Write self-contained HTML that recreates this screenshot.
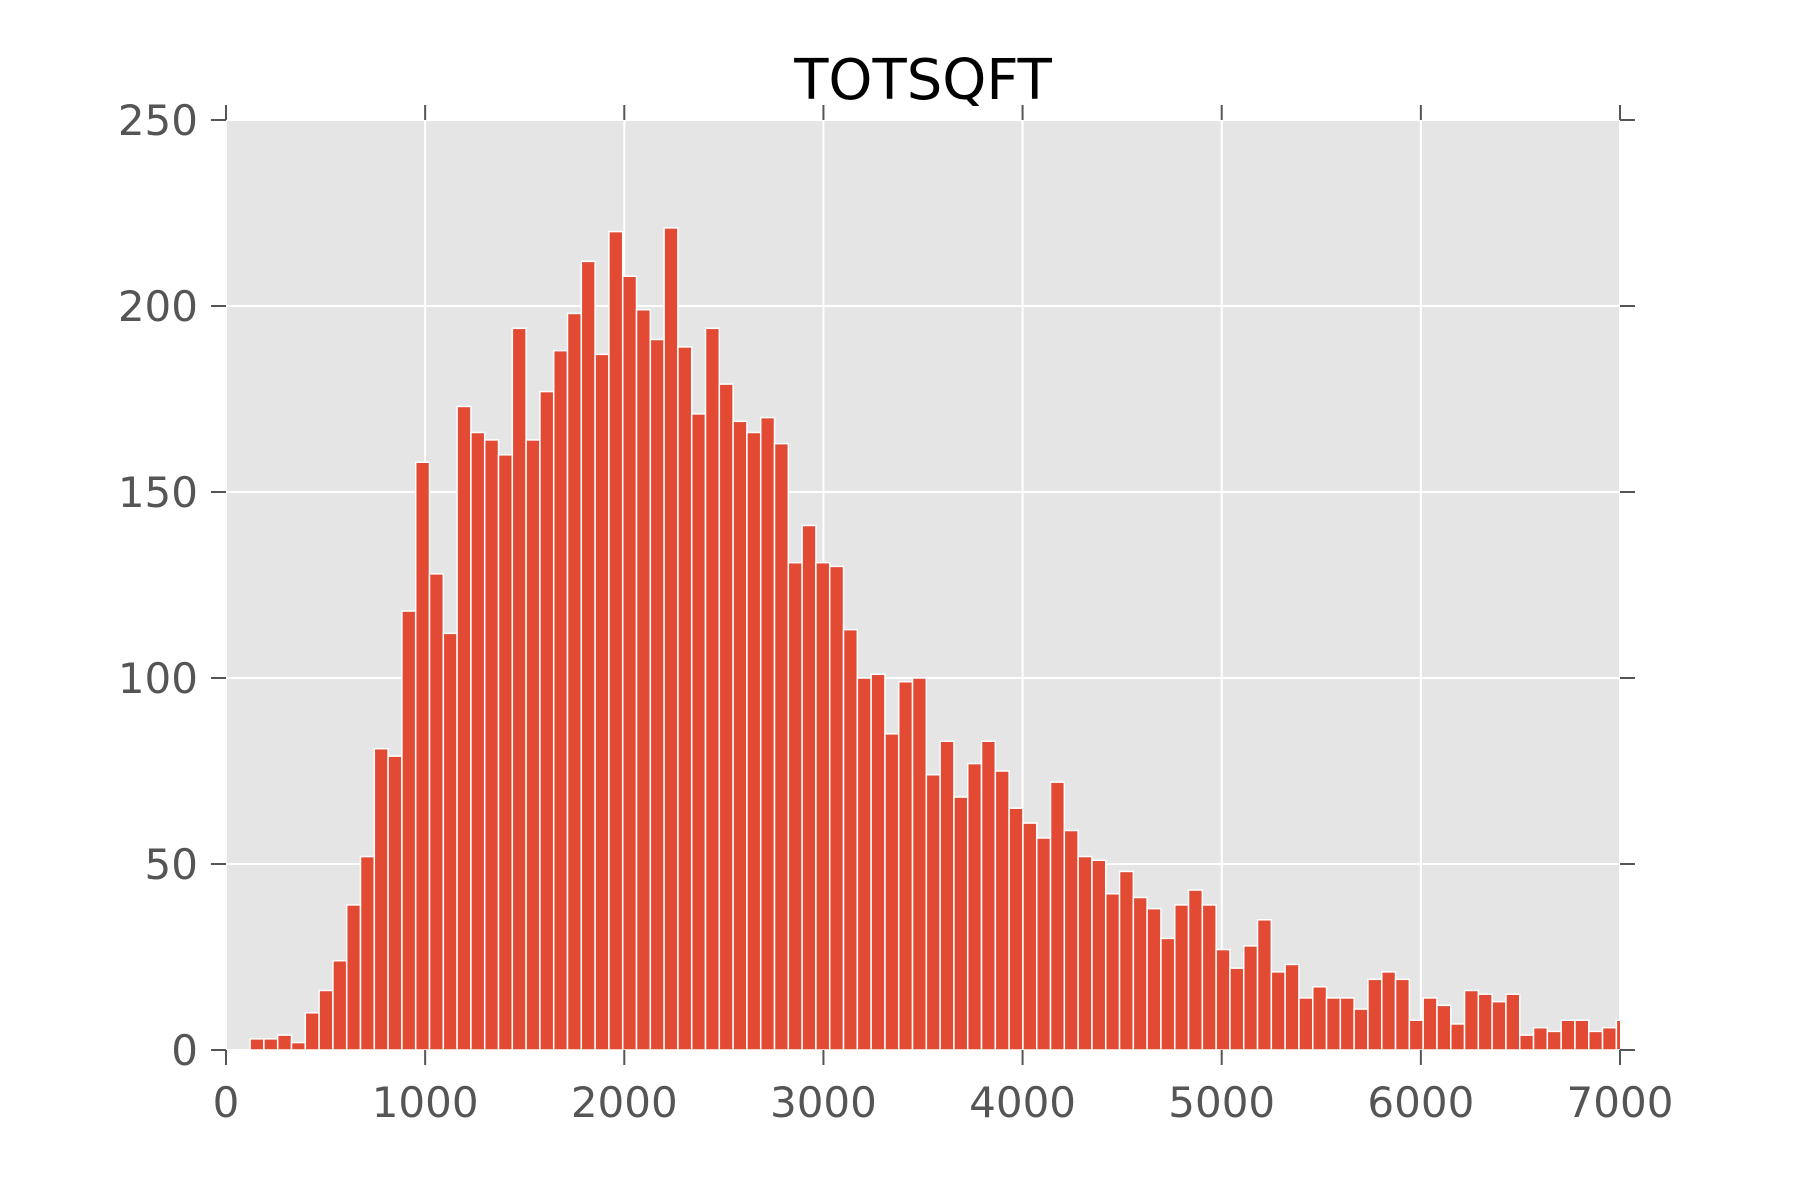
<!DOCTYPE html>
<html><head><meta charset="utf-8"><style>html,body{margin:0;padding:0;background:#fff;}svg{display:block;}</style></head>
<body>
<svg id="chart" width="1800" height="1200" viewBox="0 0 1800 1200" xmlns="http://www.w3.org/2000/svg" font-family="'DejaVu Sans','Liberation Sans',sans-serif">
<defs><clipPath id="clip"><rect x="226" y="120" width="1394" height="930"/></clipPath></defs>
<rect x="226" y="120" width="1394" height="930" fill="#e5e5e5"/>
<g id="grid"></g>
<g id="bars" clip-path="url(#clip)"></g>
<g id="axes"></g>
<text x="923" y="99" text-anchor="middle" font-size="56" fill="#000">TOTSQFT</text>
</svg>
<script>
const binStart = 121;
const binWidth = 69.3;
const counts = [3,3,4,2,10,16,24,39,52,81,79,118,158,128,112,173,166,164,160,194,164,177,188,198,212,187,220,208,199,191,221,189,171,194,179,169,166,170,163,131,141,131,130,113,100,101,85,99,100,74,83,68,77,83,75,65,61,57,72,59,52,51,42,48,41,38,30,39,43,39,27,22,28,35,21,23,14,17,14,14,11,19,21,19,8,14,12,7,16,15,13,15,4,6,5,8,8,5,6,8];
const xTicks = [0,1000,2000,3000,4000,5000,6000,7000];
const yTicks = [0,50,100,150,200,250];
const NS = 'http://www.w3.org/2000/svg';
const X0=226, X1=1620, Y0=1050, Y1=120;
function sx(v){return X0+(v-0)/(7000-0)*(X1-X0);}
function sy(v){return Y0-(v-0)/(250-0)*(Y0-Y1);}
function mk(tag, attrs, parent){const e=document.createElementNS(NS,tag);for(const k in attrs)e.setAttribute(k,attrs[k]);parent.appendChild(e);return e;}
const grid=document.getElementById('grid'), bars=document.getElementById('bars'), axes=document.getElementById('axes');
xTicks.forEach(t=>{
  const g=mk('line',{x1:sx(t),x2:sx(t),y1:Y1,y2:Y0,stroke:'#fff','stroke-width':2},grid);
  
  
  const a=mk('line',{x1:sx(t),x2:sx(t),y1:Y0,y2:Y0+15,stroke:'#555','stroke-width':2},axes);
  
  
  const b=mk('line',{x1:sx(t),x2:sx(t),y1:Y1-15,y2:Y1,stroke:'#555','stroke-width':2},axes);
  
  
  const l=mk('text',{x:sx(t),y:Y0+67,'text-anchor':'middle','font-size':42,fill:'#555'},axes);
  l.textContent=t;
  
  
});
yTicks.forEach(t=>{
  const g=mk('line',{x1:X0,x2:X1,y1:sy(t),y2:sy(t),stroke:'#fff','stroke-width':2},grid);
  
  
  const a=mk('line',{x1:X0-15,x2:X0,y1:sy(t),y2:sy(t),stroke:'#555','stroke-width':2},axes);
  
  
  const b=mk('line',{x1:X1,x2:X1+15,y1:sy(t),y2:sy(t),stroke:'#555','stroke-width':2},axes);
  
  
  const l=mk('text',{x:X0-28,y:sy(t)+15,'text-anchor':'end','font-size':42,fill:'#555'},axes);
  l.textContent=t;
  
  
});
counts.forEach((c,i)=>{
  const a=binStart+i*binWidth, b=a+binWidth;
  const r=mk('rect',{x:sx(a),y:sy(c),width:sx(b)-sx(a),height:sy(0)-sy(c),fill:'#e24a33',stroke:'#fff','stroke-width':1.5},bars);
  
  
});
</script>
</body></html>
